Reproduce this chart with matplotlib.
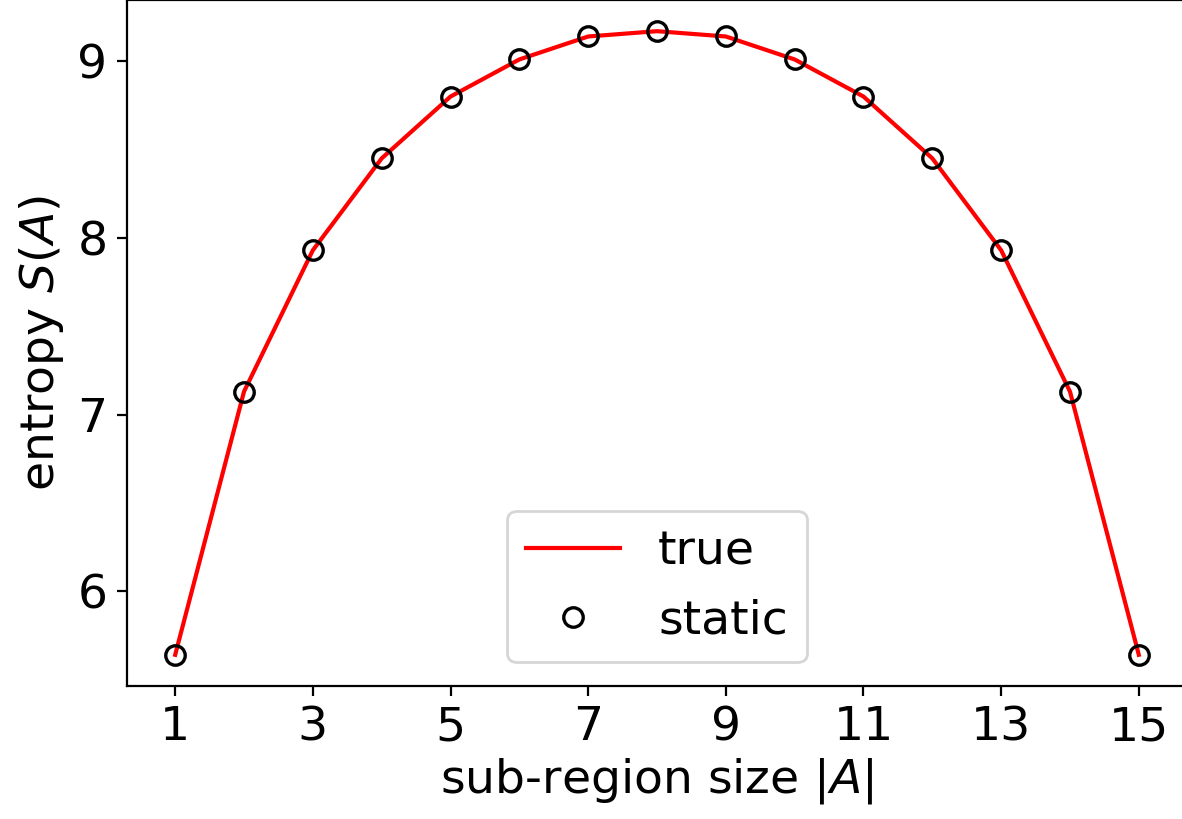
import matplotlib
matplotlib.use("Agg")
import matplotlib.pyplot as plt

# sub-region sizes and entropy values
sizes = [1, 2, 3, 4, 5, 6, 7, 8, 9, 10, 11, 12, 13, 14, 15]
entropy_true = [5.64, 7.13, 7.93, 8.45, 8.80, 9.01, 9.14, 9.17,
                9.14, 9.01, 8.80, 8.45, 7.93, 7.13, 5.64]
entropy_static = [5.64, 7.13, 7.93, 8.45, 8.80, 9.01, 9.14, 9.17,
                  9.14, 9.01, 8.80, 8.45, 7.93, 7.13, 5.64]
xticks = [1, 3, 5, 7, 9, 11, 13, 15]
yticks = [6, 7, 8, 9]

plt.rcParams["font.size"] = 17

fig = plt.figure(figsize=(5.91, 4.095), dpi=200)
ax = fig.add_axes([127 / 1182, 133 / 819, 1060 / 1182, 686 / 819])

ax.plot(sizes, entropy_true, color="red", lw=1.5, label="true")
ax.plot(sizes, entropy_static, "o", mfc="none", mec="black", ms=7,
        mew=1.2, label="static")

ax.set_xticks(xticks)
ax.set_yticks(yticks)
ax.set_xlabel("sub-region size $|A|$", labelpad=2)
ax.set_ylabel("entropy $S(A)$")
ax.legend(loc="lower center", fontsize=17)

fig.savefig("out.png", dpi=200)
